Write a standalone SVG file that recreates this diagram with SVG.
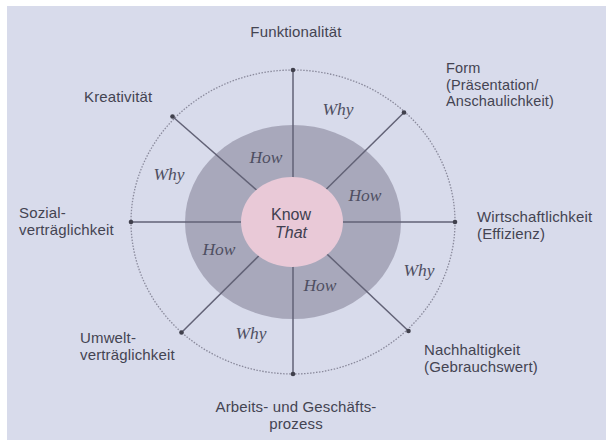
<svg xmlns="http://www.w3.org/2000/svg" width="606" height="440" viewBox="0 0 606 440">
<style>
.lbl{font-family:"Liberation Sans",Arial,sans-serif;font-size:15px;letter-spacing:0.15px;fill:#444452}
.ser{font-family:"Liberation Serif","Times New Roman",serif;font-style:italic;font-size:17.5px;fill:#4f4f62;text-anchor:middle}
.ax{stroke:#626276;stroke-width:1.5;fill:none}
.dot{fill:#40404c}
</style>
<rect x="0" y="0" width="606" height="440" fill="#ffffff"/>
<rect x="7" y="6" width="599" height="434" fill="#d8dbeb"/>
<g id="outer-ring">
<ellipse cx="293" cy="222" rx="162" ry="152" fill="none" stroke="#8a8a9c" stroke-width="1.3" stroke-dasharray="1.5 1.5"/>
</g>
<g id="how-ring">
<ellipse cx="293" cy="222" rx="108" ry="97" fill="#a8a8bb"/>
</g>
<g id="connectors">
<line class="ax" x1="293" y1="222" x2="293" y2="70"/>
<line class="ax" x1="293" y1="222" x2="293" y2="374"/>
<line class="ax" x1="293" y1="222" x2="131" y2="222"/>
<line class="ax" x1="293" y1="222" x2="455" y2="222"/>
<line class="ax" x1="293" y1="222" x2="172.5" y2="116.5"/>
<line class="ax" x1="293" y1="222" x2="404" y2="112.5"/>
<line class="ax" x1="293" y1="222" x2="181.5" y2="332.5"/>
<line class="ax" x1="293" y1="222" x2="408.5" y2="331"/>
<circle class="dot" cx="293" cy="70" r="2.3"/>
<circle class="dot" cx="293" cy="374" r="2.3"/>
<circle class="dot" cx="131" cy="222" r="2.3"/>
<circle class="dot" cx="455" cy="222" r="2.3"/>
<circle class="dot" cx="172.5" cy="116.5" r="2.3"/>
<circle class="dot" cx="404" cy="112.5" r="2.3"/>
<circle class="dot" cx="181.5" cy="332.5" r="2.3"/>
<circle class="dot" cx="408.5" cy="331" r="2.3"/>
</g>
<g id="know-that">
<ellipse cx="292" cy="222" rx="51" ry="45" fill="#e9c9d7"/>
<text x="291" y="220" style="font-family:'Liberation Sans',Arial,sans-serif;font-size:16px;fill:#404050;text-anchor:middle">Know</text>
<text x="291" y="238" style="font-family:'Liberation Sans',Arial,sans-serif;font-size:16px;font-style:italic;fill:#404050;text-anchor:middle">That</text>
</g>
<g id="how-labels">
<text class="ser" x="266" y="163">How</text>
<text class="ser" x="365" y="201">How</text>
<text class="ser" x="219" y="255">How</text>
<text class="ser" x="320" y="291">How</text>
</g>
<g id="why-labels">
<text class="ser" x="338" y="115">Why</text>
<text class="ser" x="169" y="180">Why</text>
<text class="ser" x="419" y="276">Why</text>
<text class="ser" x="251" y="339">Why</text>
</g>
<g id="funktionalitaet"><text class="lbl" x="296" y="37" text-anchor="middle">Funktionalität</text></g>
<g id="kreativitaet"><text class="lbl" x="84" y="102">Kreativität</text></g>
<g id="form"><text class="lbl" x="446" y="73" style="font-size:14.5px">Form</text><text class="lbl" x="446" y="89.5" style="font-size:14.5px">(Präsentation/</text><text class="lbl" x="446" y="106" style="font-size:14.5px">Anschaulichkeit)</text></g>
<g id="sozial"><text class="lbl" x="19" y="218">Sozial-</text><text class="lbl" x="19" y="235">verträglichkeit</text></g>
<g id="wirtschaft"><text class="lbl" x="477" y="222">Wirtschaftlichkeit</text><text class="lbl" x="477" y="239">(Effizienz)</text></g>
<g id="umwelt"><text class="lbl" x="80" y="343">Umwelt-</text><text class="lbl" x="80" y="360">verträglichkeit</text></g>
<g id="nachhaltig"><text class="lbl" x="424" y="355">Nachhaltigkeit</text><text class="lbl" x="424" y="372">(Gebrauchswert)</text></g>
<g id="arbeit"><text class="lbl" x="296" y="412" text-anchor="middle">Arbeits- und Geschäfts-</text><text class="lbl" x="296" y="429" text-anchor="middle">prozess</text></g>
</svg>
